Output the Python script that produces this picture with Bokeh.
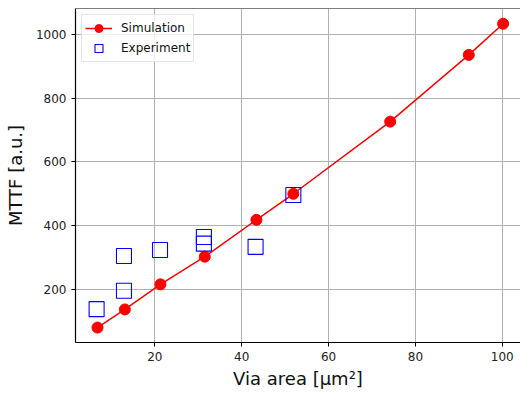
from bokeh.plotting import figure
from bokeh.models import Range1d, Span, FixedTicker
from bokeh.embed import file_html
from bokeh.resources import INLINE

# Data
sim_area = [6.8, 13.1, 21.3, 31.5, 43.4, 51.9, 74.2, 92.3, 100.2]
sim_mttf = [79, 136, 215, 302, 418, 500, 727, 937, 1035]
exp_area = [6.6, 12.9, 12.9, 21.2, 31.3, 31.3, 43.2, 51.9]
exp_mttf = [137, 304, 195, 323, 364, 343, 333, 496]
x_ticks = [20, 40, 60, 80, 100]
y_ticks = [200, 400, 600, 800, 1000]

FONT = "DejaVu Sans"

p = figure(width=520, height=395, output_backend="svg", toolbar_location=None,
           x_range=Range1d(1.74, 104.2), y_range=Range1d(32, 1083),
           min_border_left=75, min_border_right=0, min_border_top=8,
           min_border_bottom=53)
p.outline_line_color = None
p.background_fill_color = "white"
p.border_fill_color = "white"

top = Span(location=1083, dimension="width", line_color="black", line_width=1.2)
p.add_layout(top)

for ax in (p.xaxis[0], p.yaxis[0]):
    ax.axis_line_color = "black"
    ax.axis_line_width = 1.2
    ax.major_tick_line_color = "black"
    ax.major_tick_in = 0
    ax.major_tick_out = 4
    ax.minor_tick_line_color = None
    ax.major_label_text_font = FONT
    ax.major_label_text_font_size = "12px"
    ax.major_label_text_color = "#222222"
    ax.axis_label_text_font = FONT
    ax.axis_label_text_font_size = "18px"
    ax.axis_label_text_font_style = "normal"
    ax.axis_label_text_color = "#111111"
    ax.major_label_standoff = 5

p.xaxis.ticker = FixedTicker(ticks=x_ticks)
p.yaxis.ticker = FixedTicker(ticks=y_ticks)
p.xaxis.axis_label = "Via area [μm²]"
p.yaxis.axis_label = "MTTF [a.u.]"
p.xaxis.axis_label_standoff = 4
p.yaxis.axis_label_standoff = 7

p.grid.grid_line_color = "#b0b0b0"
p.grid.grid_line_width = 1

p.line(sim_area, sim_mttf, line_color="#ff0000", line_width=1.5, legend_label="Simulation")
p.scatter(sim_area, sim_mttf, marker="circle", size=11, fill_color="#ff0000",
          line_color="#ff0000", legend_label="Simulation")
p.scatter(exp_area, exp_mttf, marker="square", size=15, fill_color=None,
          line_color="#0000ff", line_width=1.1, legend_label="Experiment")

lg = p.legend[0]
lg.location = "top_left"
lg.margin = 6
lg.padding = 3
lg.spacing = -2
lg.glyph_width = 27
lg.glyph_height = 20
lg.label_standoff = 9
lg.label_text_font = FONT
lg.label_text_font_size = "12px"
lg.label_text_color = "#111111"
lg.border_line_color = "#cccccc"
lg.border_line_width = 1
lg.background_fill_alpha = 0.8

open("out.html", "w").write(file_html(p, INLINE))
